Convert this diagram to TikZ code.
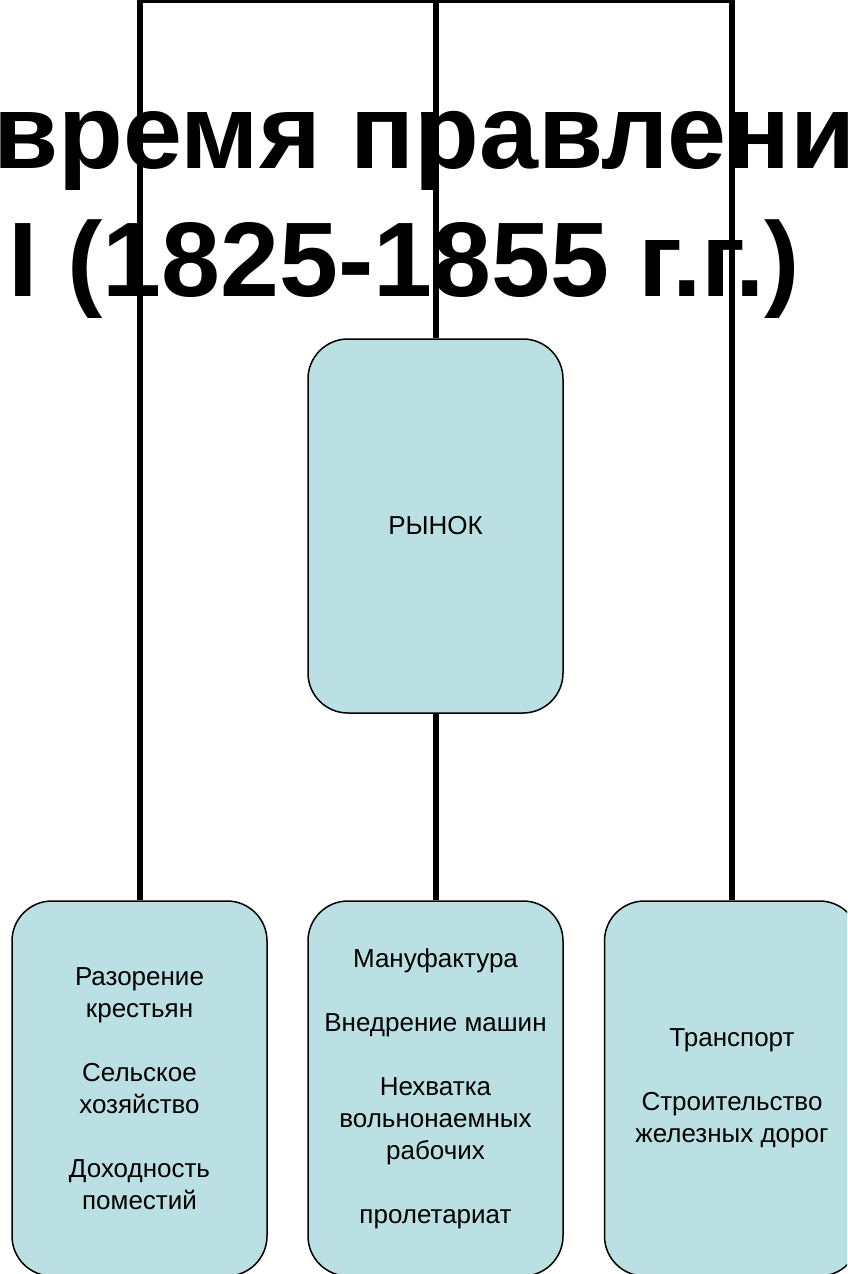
\documentclass[tikz,border=0pt]{standalone}
\usepackage{fontspec}
\setmainfont{Liberation Sans}
\usetikzlibrary{positioning}
\definecolor{boxcyan}{RGB}{187, 224, 227}
\newcommand{\parskipline}{\\[32pt]}
\tikzset{
  itembox/.style={draw=black, line width=1.5pt, fill=boxcyan, rounded corners=40pt,
    minimum width=255pt, inner sep=0pt, align=center,
    font=\fontsize{26}{32}\selectfont},
  branch/.style={line width=6pt},
  headline/.style={anchor=base west, inner sep=0pt, font=\fontsize{106}{128}\selectfont\bfseries}
}

\begin{document}
\begin{tikzpicture}[x=1pt, y=-1pt]
  \useasboundingbox (0,0) rectangle (847,1274);
  \clip (0,0) rectangle (847,1274);
  % title, cut by the frame
  \node[headline] (head1) at (-7, 168) {время правлени};
  \node[headline] (head2) at (8, 296) {I (1825-1855 г.г.)};

  % boxes
  \node[itembox, minimum height=374pt] (rynok) at (435.5, 526) {РЫНОК};
  \node[itembox, minimum height=375pt] (agri) at (139.5, 1088.5)
    {Разорение\\крестьян\parskipline Сельское\\хозяйство\parskipline Доходность\\поместий};
  \node[itembox, minimum height=375pt] (manuf) at (435.5, 1088.5)
    {Мануфактура\parskipline Внедрение машин\parskipline Нехватка\\вольнонаемных\\рабочих\parskipline пролетариат};
  \node[itembox, minimum height=375pt] (trans) at (732, 1088.5)
    {Транспорт\parskipline Строительство\\железных дорог};

  % connectors
  \coordinate (top) at (435.5, 0);
  \draw[branch] (agri.north) |- (top) -| (trans.north);
  \draw[branch] (top) -- (rynok.north);
  \draw[branch] (rynok.south) -- (manuf.north);
\end{tikzpicture}
\end{document}
